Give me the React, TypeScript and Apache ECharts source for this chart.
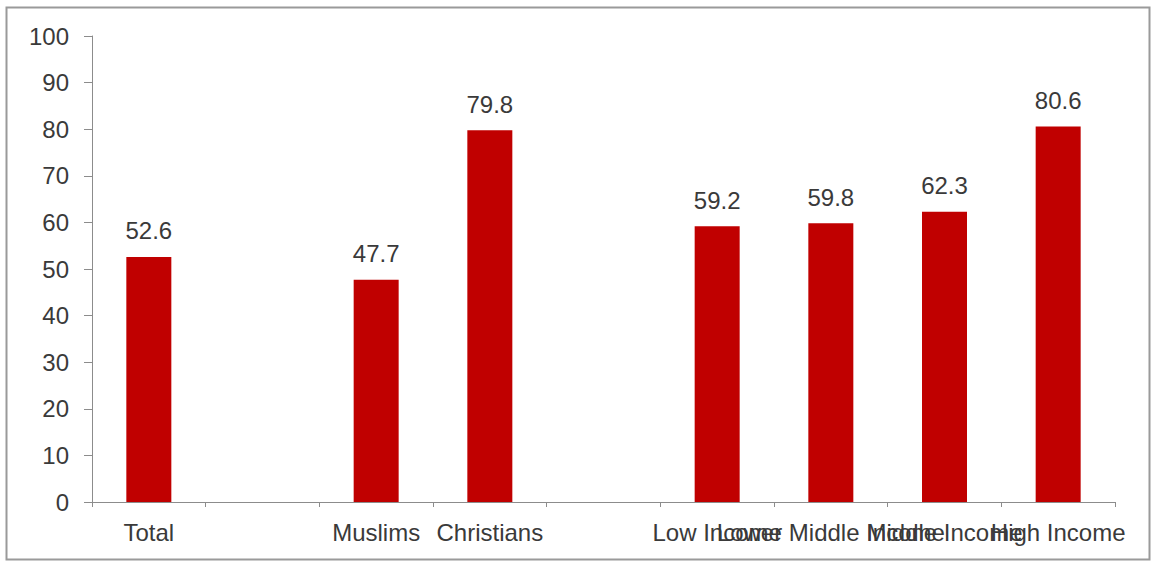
import React, { useEffect, useRef } from "react";
import * as echarts from "echarts";

const categories = ["Total", " ", "Muslims", "Christians", "  ", "Low Income", "Lower Middle Income", "Middle Income", "High Income"];
const values: (number | null)[] = [52.6, null, 47.7, 79.8, null, 59.2, 59.8, 62.3, 80.6];
const yTicks = { min: 0, max: 100, interval: 10 };

const FONT = "'Liberation Sans', Arial, sans-serif";
const TEXT = "#3a3a3a";
const AXIS = "#8c8c8c";

export default function App() {
  const ref = useRef<HTMLDivElement>(null);
  useEffect(() => {
    const chart = echarts.init(ref.current!, null, { renderer: "svg" });
    chart.setOption({
      animation: false,
      backgroundColor: "#ffffff",
      textStyle: { fontFamily: FONT },
      graphic: [
        {
          type: "rect",
          shape: { x: 6.5, y: 7.5, width: 1143, height: 552 },
          style: { fill: "none", stroke: "#9a9a9a", lineWidth: 2 },
          silent: true,
        },
      ],
      grid: { left: 92, right: 38, top: 36, bottom: 61 },
      xAxis: {
        type: "category",
        data: categories,
        axisLine: { lineStyle: { color: AXIS, width: 1 } },
        axisTick: { show: true, length: 5, alignWithLabel: false, lineStyle: { color: AXIS } },
        axisLabel: { interval: 0, color: TEXT, fontSize: 24, fontFamily: FONT, margin: 18, hideOverlap: false },
      },
      yAxis: {
        type: "value",
        min: yTicks.min,
        max: yTicks.max,
        interval: yTicks.interval,
        splitLine: { show: false },
        axisLine: { show: true, lineStyle: { color: AXIS, width: 1 } },
        axisTick: { show: true, length: 8, lineStyle: { color: AXIS } },
        axisLabel: { color: TEXT, fontSize: 24, fontFamily: FONT, margin: 23 },
      },
      series: [
        {
          type: "bar",
          data: values,
          barWidth: 45,
          itemStyle: { color: "#c00000" },
          label: {
            show: true,
            position: "top",
            distance: 14,
            color: TEXT,
            fontSize: 24,
            fontFamily: FONT,
            formatter: (p: any) => (p.value == null ? "" : Number(p.value).toFixed(1)),
          },
        },
      ],
    });
    return () => chart.dispose();
  }, []);
  return (
    <div
      ref={ref}
      style={{ position: "fixed", left: 0, top: 0, width: 1153, height: 563 }}
    />
  );
}
